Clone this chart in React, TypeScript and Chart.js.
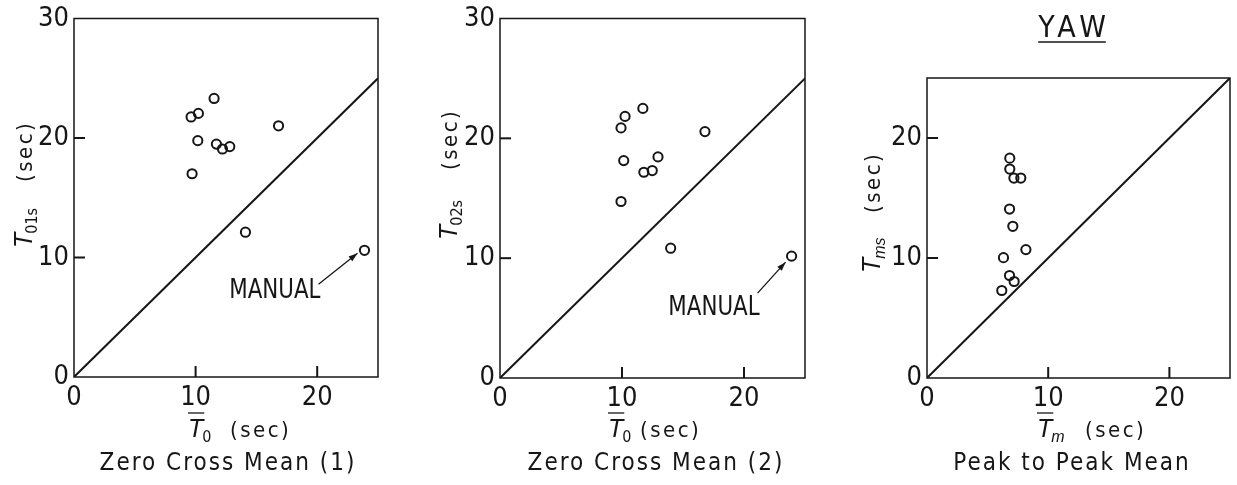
import { useEffect, useRef } from "react";
import { Chart, registerables } from "chart.js";

Chart.register(...registerables);

// ---------- data ----------
const xTickValues = [0, 10, 20];
const yTickValuesZeroCross = [0, 10, 20, 30];
const yTickValuesPeak = [0, 10, 20];
const innerTickValues = [10, 20];
const equalityLine = [0, 25];

// Zero cross mean (1): mean period vs. significant period
const zeroCross1Mean = [9.63, 10.23, 11.52, 10.18, 11.71, 12.21, 12.81, 9.71, 16.82, 14.1, 23.89];
const zeroCross1Sig = [21.76, 22.06, 23.31, 19.78, 19.49, 19.08, 19.28, 17.01, 21.02, 12.12, 10.6];

// Zero cross mean (2)
const zeroCross2Mean = [9.92, 10.25, 11.71, 10.14, 11.79, 12.48, 12.95, 9.92, 16.8, 13.99, 23.9];
const zeroCross2Sig = [20.87, 21.83, 22.5, 18.14, 17.17, 17.31, 18.45, 14.73, 20.56, 10.83, 10.17];

// Peak to peak mean
const peakMean = [6.83, 6.83, 7.17, 7.74, 6.81, 7.08, 8.16, 6.31, 6.81, 7.19, 6.17];
const peakSig = [18.32, 17.41, 16.66, 16.66, 14.08, 12.64, 10.7, 10.03, 8.54, 8.04, 7.29];

// the run steered by hand is the last entry of the zero-cross series
const manualIndex = 10;

// ---------- styling / layout ----------
const H = 485;
const INK = "#161616";
const NARROW = '"DejaVu Sans Condensed", "Liberation Sans", sans-serif';
const SANS = '"Liberation Sans", Arial, sans-serif';
const TICK_LEN = 11;
const TICK_W = 2;

type Panel = {
  left: number;
  width: number;
  area: { left: number; top: number; right: number; bottom: number };
  xs: number[];
  ys: number[];
  yMax: number;
  yTicks: number[];
  xSub: string;
  xSubItalic: boolean;
  ySub: string;
  ySubItalic: boolean;
  xTitle: { x: number; y: number; secX: number };
  yTitle: { x: number; y: number; secGap: number };
  subtitle: string;
  subtitleX: number;
  manual?: { textDx: number; textDy: number; fromDx: number; fromDy: number; toDx: number; toDy: number };
  heading?: { text: string; x: number; y: number; lineY: number };
};

const PANELS: Panel[] = [
  {
    left: 0,
    width: 400,
    area: { left: 74, top: 15, right: 378, bottom: 377 },
    xs: zeroCross1Mean,
    ys: zeroCross1Sig,
    yMax: 30,
    yTicks: yTickValuesZeroCross,
    xSub: "0",
    xSubItalic: false,
    ySub: "01s",
    ySubItalic: false,
    xTitle: { x: 188, y: 437, secX: 230 },
    yTitle: { x: 32, y: 248, secGap: 66 },
    subtitle: "Zero Cross Mean (1)",
    subtitleX: 227,
    manual: { textDx: -44, textDy: 48, fromDx: -46, fromDy: 34, toDx: -7, toDy: 3 },
  },
  {
    left: 420,
    width: 420,
    area: { left: 80, top: 15, right: 385, bottom: 378 },
    xs: zeroCross2Mean,
    ys: zeroCross2Sig,
    yMax: 30,
    yTicks: yTickValuesZeroCross,
    xSub: "0",
    xSubItalic: false,
    ySub: "02s",
    ySubItalic: false,
    xTitle: { x: 188, y: 437, secX: 220 },
    yTitle: { x: 37, y: 240, secGap: 70 },
    subtitle: "Zero Cross Mean (2)",
    subtitleX: 235,
    manual: { textDx: -32, textDy: 59, fromDx: -34, fromDy: 37, toDx: -6, toDy: 6 },
  },
  {
    left: 840,
    width: 397,
    area: { left: 87, top: 78, right: 390, bottom: 378 },
    xs: peakMean,
    ys: peakSig,
    yMax: 25,
    yTicks: yTickValuesPeak,
    xSub: "m",
    xSubItalic: true,
    ySub: "ms",
    ySubItalic: true,
    xTitle: { x: 197, y: 437, secX: 245 },
    yTitle: { x: 40, y: 273, secGap: 60 },
    subtitle: "Peak to Peak Mean",
    subtitleX: 231,
    heading: { text: "YAW", x: 232, y: 37, lineY: 42 },
  },
];

// T with subscript, optional overline
function drawSymbol(ctx: CanvasRenderingContext2D, sub: string, subItalic: boolean, overline: boolean) {
  ctx.letterSpacing = "0px";
  ctx.font = `italic 25px ${SANS}`;
  const tw = ctx.measureText("T").width;
  ctx.fillText("T", 0, 0);
  if (overline) {
    ctx.beginPath();
    ctx.moveTo(0, -24);
    ctx.lineTo(tw + 1, -24);
    ctx.stroke();
  }
  ctx.font = `${subItalic ? "italic " : ""}16px ${subItalic ? SANS : NARROW}`;
  ctx.fillText(sub, tw - 1, 5);
}

// text compressed horizontally, anchored at its left or right end
function fillSqueezed(
  ctx: CanvasRenderingContext2D,
  text: string,
  x: number,
  y: number,
  sx: number,
  align: "left" | "right"
) {
  ctx.save();
  ctx.translate(x, y);
  ctx.scale(sx, 1);
  ctx.textAlign = align;
  ctx.fillText(text, 0, 0);
  ctx.restore();
}

function drawArrow(ctx: CanvasRenderingContext2D, x1: number, y1: number, x2: number, y2: number) {
  ctx.beginPath();
  ctx.moveTo(x1, y1);
  ctx.lineTo(x2, y2);
  ctx.stroke();
  const ang = Math.atan2(y2 - y1, x2 - x1);
  const len = 9;
  const half = 3;
  ctx.beginPath();
  ctx.moveTo(x2, y2);
  ctx.lineTo(x2 - len * Math.cos(ang) + half * Math.sin(ang), y2 - len * Math.sin(ang) - half * Math.cos(ang));
  ctx.lineTo(x2 - len * Math.cos(ang) - half * Math.sin(ang), y2 - len * Math.sin(ang) + half * Math.cos(ang));
  ctx.closePath();
  ctx.fill();
}

function decorations(p: Panel) {
  return {
    id: "decorations",
    afterDraw(chart: any) {
      const { ctx, chartArea: a, scales } = chart;
      const xs = scales.x;
      const ys = scales.y;
      ctx.save();
      ctx.strokeStyle = INK;
      ctx.fillStyle = INK;
      ctx.lineWidth = 1.5;

      // frame
      ctx.strokeRect(a.left, a.top, a.right - a.left, a.bottom - a.top);

      // inward tick marks, placed by the scales
      innerTickValues.forEach((v) => {
        const px = xs.getPixelForValue(v);
        ctx.fillRect(px - TICK_W / 2, a.bottom - TICK_LEN, TICK_W, TICK_LEN);
        const py = ys.getPixelForValue(v);
        ctx.fillRect(a.left, py - TICK_W / 2, TICK_LEN, TICK_W);
      });

      ctx.textAlign = "left";
      ctx.textBaseline = "alphabetic";
      ctx.lineWidth = 1.3;

      // x title
      ctx.save();
      ctx.translate(p.xTitle.x, p.xTitle.y);
      drawSymbol(ctx, p.xSub, p.xSubItalic, true);
      ctx.restore();
      ctx.font = `22px ${NARROW}`;
      ctx.letterSpacing = "2.5px";
      ctx.fillText("(sec)", p.xTitle.secX, p.xTitle.y);

      // y title
      ctx.save();
      ctx.translate(p.yTitle.x, p.yTitle.y);
      ctx.rotate(-Math.PI / 2);
      drawSymbol(ctx, p.ySub, p.ySubItalic, false);
      ctx.font = `22px ${NARROW}`;
      ctx.letterSpacing = "2.5px";
      ctx.fillText("(sec)", p.yTitle.secGap, 0);
      ctx.restore();

      // subtitle
      ctx.font = `24px ${NARROW}`;
      ctx.letterSpacing = "2px";
      const sw = ctx.measureText(p.subtitle).width - 2;
      ctx.fillText(p.subtitle, p.subtitleX - sw / 2, 470);

      // hand-steered run annotation
      if (p.manual) {
        const m = p.manual;
        const px = xs.getPixelForValue(p.xs[manualIndex]);
        const py = ys.getPixelForValue(p.ys[manualIndex]);
        ctx.font = `27px ${NARROW}`;
        ctx.letterSpacing = "0px";
        fillSqueezed(ctx, "MANUAL", px + m.textDx, py + m.textDy, 0.88, "right");
        ctx.lineWidth = 1.3;
        drawArrow(ctx, px + m.fromDx, py + m.fromDy, px + m.toDx, py + m.toDy);
      }

      // heading
      if (p.heading) {
        const h = p.heading;
        ctx.font = `30px ${NARROW}`;
        ctx.letterSpacing = "5px";
        const hw = ctx.measureText(h.text).width - 5;
        ctx.fillText(h.text, h.x - hw / 2, h.y);
        ctx.lineWidth = 1.6;
        ctx.beginPath();
        ctx.moveTo(h.x - hw / 2, h.lineY);
        ctx.lineTo(h.x + hw / 2, h.lineY);
        ctx.stroke();
      }
      ctx.letterSpacing = "0px";
      ctx.restore();
    },
  };
}

function PanelChart({ p }: { p: Panel }) {
  const ref = useRef<HTMLCanvasElement>(null);
  useEffect(() => {
    const canvas = ref.current;
    if (!canvas) return;
    const tickFont = { family: NARROW, size: 27, lineHeight: 1 };
    const chart = new Chart(canvas, {
      type: "scatter",
      data: {
        datasets: [
          {
            label: "equality",
            data: equalityLine.map((v) => ({ x: v, y: v })),
            showLine: true,
            borderColor: INK,
            borderWidth: 2,
            pointRadius: 0,
          },
          {
            label: "runs",
            data: p.xs.map((x, i) => ({ x, y: p.ys[i] })),
            showLine: false,
            pointStyle: "circle",
            pointRadius: 4.6,
            pointBorderWidth: 2,
            pointBorderColor: INK,
            pointBackgroundColor: "rgba(255,255,255,0)",
          },
        ],
      },
      options: {
        responsive: false,
        animation: false,
        devicePixelRatio: 1,
        events: [],
        layout: {
          padding: { left: 0, top: p.area.top, right: p.width - p.area.right, bottom: 0 },
        },
        plugins: { legend: { display: false }, tooltip: { enabled: false } },
        scales: {
          x: {
            type: "linear",
            min: 0,
            max: 25,
            grid: { display: false, drawTicks: false },
            border: { display: false },
            ticks: { font: tickFont, color: INK, padding: 7 },
            afterBuildTicks: (s: any) => {
              s.ticks = xTickValues.map((value) => ({ value }));
            },
            afterFit: (s: any) => {
              s.height = H - p.area.bottom;
            },
          },
          y: {
            type: "linear",
            min: 0,
            max: p.yMax,
            grid: { display: false, drawTicks: false },
            border: { display: false },
            ticks: { font: tickFont, color: INK, padding: 5 },
            afterBuildTicks: (s: any) => {
              s.ticks = p.yTicks.map((value) => ({ value }));
            },
            afterFit: (s: any) => {
              s.width = p.area.left;
            },
          },
        },
      },
      plugins: [decorations(p)],
    } as any);
    return () => chart.destroy();
  }, [p]);
  return (
    <canvas
      ref={ref}
      width={p.width}
      height={H}
      style={{ position: "absolute", left: p.left, top: 0, width: p.width, height: H }}
    />
  );
}

export default function App() {
  return (
    <div
      style={{
        position: "absolute",
        left: 0,
        top: 0,
        width: 1237,
        height: H,
        background: "#fff",
        overflow: "hidden",
      }}
    >
      {PANELS.map((p, i) => (
        <PanelChart key={i} p={p} />
      ))}
    </div>
  );
}
